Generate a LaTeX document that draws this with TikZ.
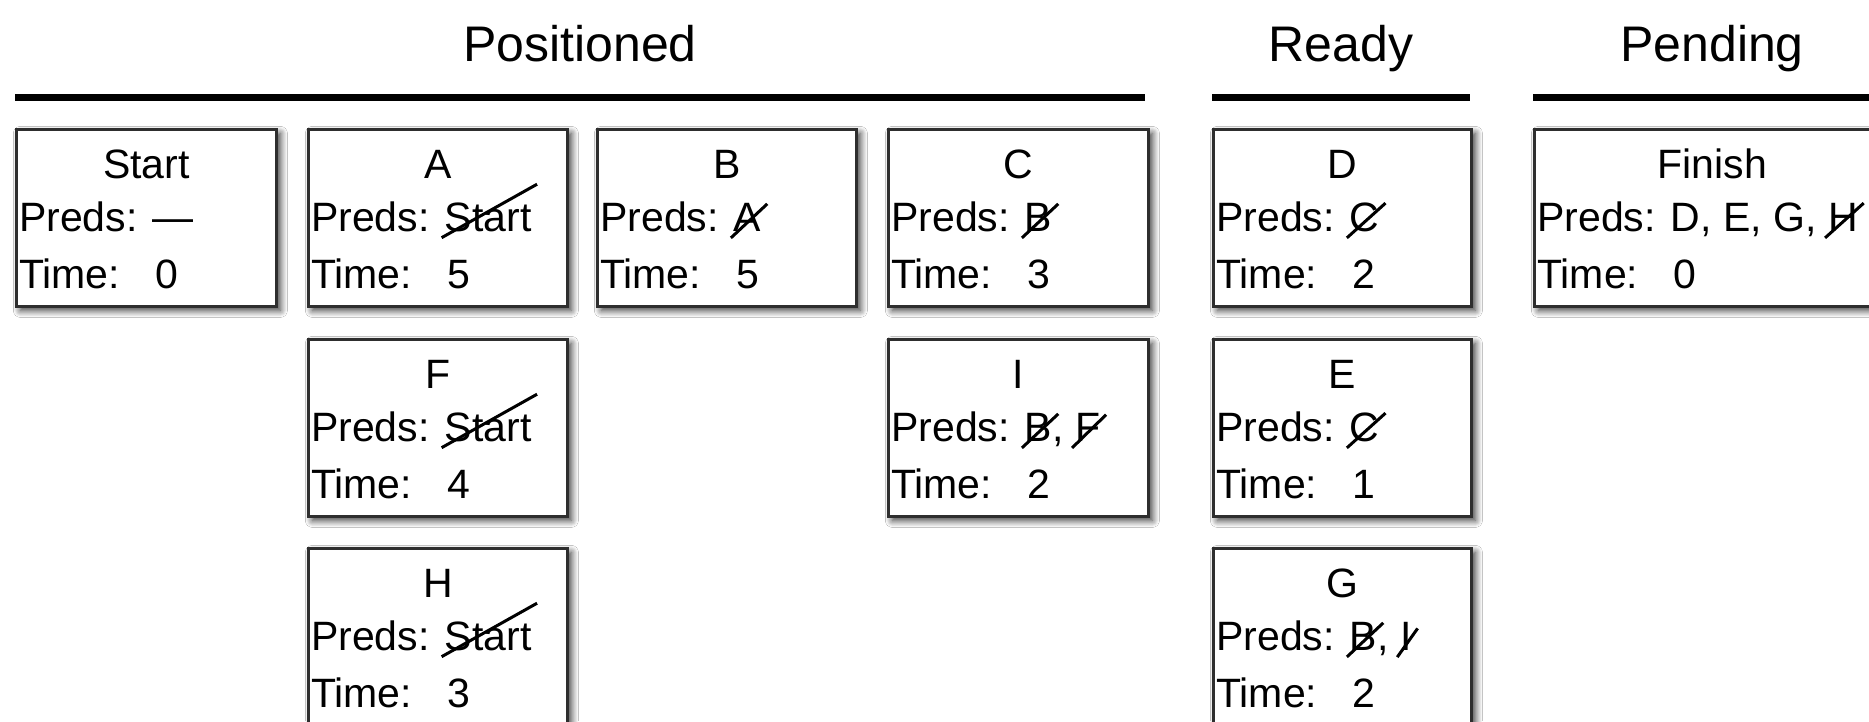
\documentclass[tikz,border=0pt]{standalone}
\usepackage{fontspec}
\setmainfont{Liberation Sans}
\usepackage{graphicx}
\usetikzlibrary{calc,shadows.blur}

\newlength\strkw
\newcommand\strk[1]{%
  \settowidth{\strkw}{#1}%
  \pgfmathsetmacro\sdx{\strkw+9}%
  \pgfmathsetmacro\sdy{0.33*\strkw+25}%
  \pgfmathsetmacro\sang{atan2(\sdy,\sdx)}%
  \pgfmathsetmacro\slen{veclen(\sdx,\sdy)}%
  \makebox[0pt][l]{\hspace*{-4pt}\raisebox{-8pt}{\rotatebox{\sang}{\rule{\slen pt}{3pt}}}}%
  #1}

\tikzset{
  taskbox/.style={draw=black!82, line width=2.8pt, fill=white, anchor=north west,
    minimum height=177pt, inner sep=0pt,
    blur shadow={shadow xshift=4pt, shadow yshift=-4pt, shadow blur radius=7pt,
      shadow blur steps=10, shadow opacity=80}},
  boxtxt/.style={inner sep=0pt, font=\fontsize{41}{49}\selectfont},
  coltitle/.style={inner sep=0pt, anchor=base, font=\fontsize{50}{60}\selectfont},
  colrule/.style={line width=7pt, black},
}

% #1 name, #2 x, #3 y, #4 width, #5 header, #6 preds, #7 time
\newcommand\taskbox[7]{%
  \node[taskbox, minimum width=#4pt] (#1) at (#2,#3) {};
  \node[boxtxt, anchor=base] (#1-h) at ($(#1.north)+(0,50)$) {#5};
  \node[boxtxt, anchor=base west] (#1-p) at ($(#1.north west)+(4,103)$) {Preds: #6};
  \node[boxtxt, anchor=base west] (#1-t) at ($(#1.north west)+(4,160)$) {Time:};
  \node[boxtxt, anchor=base west] (#1-v) at ($(#1.north west)+(140,160)$) {#7};
}

\begin{document}
\begin{tikzpicture}[x=1pt, y=-1pt]
  \useasboundingbox (0,0) rectangle (1869,721);
  \fill[white] (0,0) rectangle (1869,721);
  \clip (0,0) rectangle (1869,721);

  % column titles and rules
  \node[coltitle] (tpos) at (580,61) {Positioned};
  \node[coltitle] (trdy) at (1341,61) {Ready};
  \node[coltitle] (tpen) at (1712,61) {Pending};
  \draw[colrule] (15,97) -- (1145,97);
  \draw[colrule] (1212,97) -- (1470,97);
  \draw[colrule] (1533,97) -- (1900,97);

  % Positioned
  \taskbox{start}{15}{128}{260}{Start}{—}{0}
  \taskbox{A}{307}{128}{259}{A}{\strk{Start}}{5}
  \taskbox{F}{307}{338}{259}{F}{\strk{Start}}{4}
  \taskbox{H}{307}{547}{259}{H}{\strk{Start}}{3}
  \taskbox{B}{596}{128}{259}{B}{\strk{A}}{5}
  \taskbox{C}{887}{128}{260}{C}{\strk{B}}{3}
  \taskbox{I}{887}{338}{260}{I}{\strk{B}, \strk{F}}{2}

  % Ready
  \taskbox{D}{1212}{128}{258}{D}{\strk{C}}{2}
  \taskbox{E}{1212}{338}{258}{E}{\strk{C}}{1}
  \taskbox{G}{1212}{547}{258}{G}{\strk{B}, \strk{I}}{2}

  % Pending
  \taskbox{finish}{1533}{128}{356}{Finish}{D, E, G, \strk{H}}{0}
\end{tikzpicture}
\end{document}
